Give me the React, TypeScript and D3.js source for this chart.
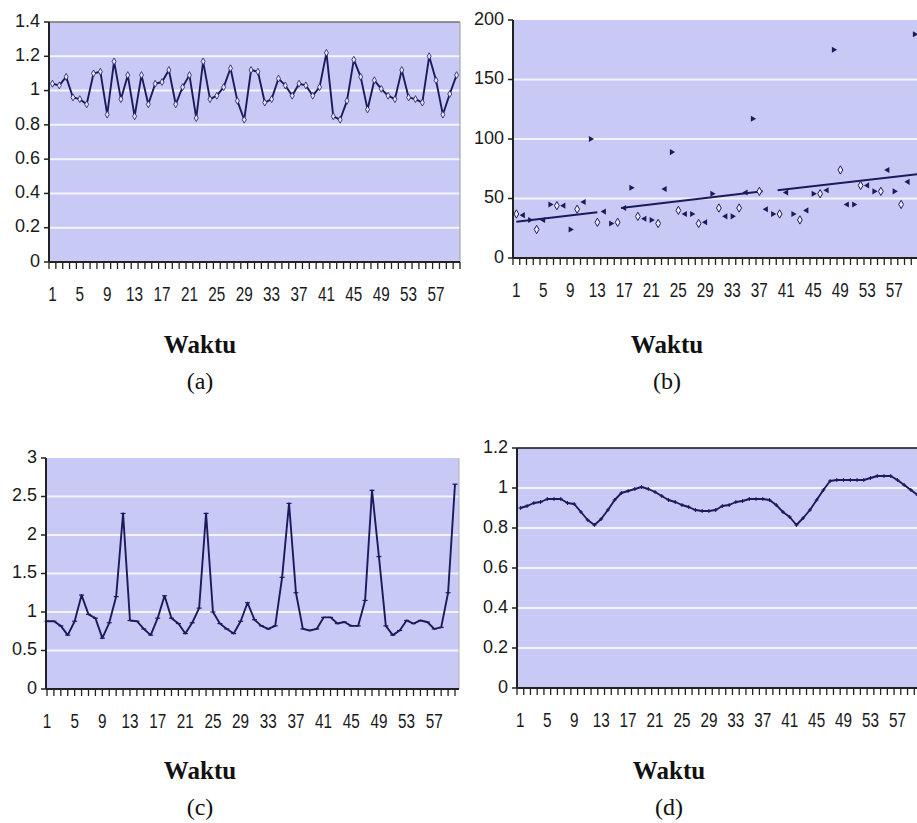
import React from 'react';
import * as d3 from 'd3';

// category labels shown under every panel (every 4th of 60 periods)
const xLabels = [1, 5, 9, 13, 17, 21, 25, 29, 33, 37, 41, 45, 49, 53, 57];
const periods = d3.range(1, 61);

// (a)
const seriesA = [
  1.04, 1.03, 1.08, 0.96, 0.95, 0.92, 1.10, 1.11, 0.86, 1.17,
  0.95, 1.09, 0.85, 1.09, 0.92, 1.04, 1.05, 1.12, 0.92, 1.02,
  1.09, 0.84, 1.17, 0.95, 0.97, 1.02, 1.13, 0.94, 0.83, 1.12,
  1.11, 0.93, 0.95, 1.07, 1.03, 0.97, 1.04, 1.03, 0.97, 1.02,
  1.22, 0.85, 0.83, 0.94, 1.18, 1.08, 0.89, 1.06, 1.01, 0.97,
  0.95, 1.12, 0.96, 0.95, 0.93, 1.20, 1.06, 0.86, 0.98, 1.09,
];
const ticksA = [0, 0.2, 0.4, 0.6, 0.8, 1, 1.2, 1.4];

// (b)
const seriesB = [
  37, 36, 32, 24, 32, 45, 44, 44, 24, 41,
  47, 100, 30, 39, 29, 30, 42, 59, 35, 33,
  32, 29, 58, 89, 40, 37, 37, 29, 30, 54,
  42, 35, 35, 42, 55, 117, 56, 41, 37, 37,
  55, 37, 32, 40, 54, 54, 57, 175, 74, 45,
  45, 61, 61, 56, 56, 74, 56, 45, 64, 188,
];
// trend line pieces: [period, value] end points
const trendB = [
  [[1, 30.5], [13, 38.5]],
  [[16.5, 42], [37.5, 56]],
  [[39.7, 57], [60.5, 70.5]],
];
const ticksB = [0, 50, 100, 150, 200];

// (c)
const seriesC = [
  0.88, 0.88, 0.82, 0.70, 0.88, 1.22, 0.97, 0.92, 0.66, 0.86,
  1.20, 2.28, 0.89, 0.88, 0.78, 0.70, 0.92, 1.21, 0.92, 0.85,
  0.72, 0.86, 1.05, 2.28, 1.00, 0.85, 0.78, 0.72, 0.88, 1.12,
  0.90, 0.82, 0.78, 0.82, 1.45, 2.41, 1.25, 0.78, 0.76, 0.78,
  0.93, 0.93, 0.85, 0.87, 0.82, 0.82, 1.15, 2.58, 1.72, 0.82,
  0.70, 0.76, 0.89, 0.85, 0.89, 0.87, 0.78, 0.80, 1.25, 2.66,
];
const ticksC = [0, 0.5, 1, 1.5, 2, 2.5, 3];

// (d)
const seriesD = [
  0.90, 0.91, 0.925, 0.93, 0.945, 0.945, 0.945, 0.925, 0.92, 0.88,
  0.84, 0.815, 0.845, 0.89, 0.94, 0.975, 0.985, 0.995, 1.005, 0.995,
  0.98, 0.96, 0.94, 0.93, 0.915, 0.905, 0.89, 0.885, 0.885, 0.89,
  0.91, 0.915, 0.93, 0.935, 0.945, 0.945, 0.945, 0.94, 0.915, 0.88,
  0.855, 0.815, 0.85, 0.89, 0.94, 0.99, 1.035, 1.04, 1.04, 1.04,
  1.04, 1.04, 1.05, 1.06, 1.06, 1.06, 1.04, 1.015, 0.99, 0.965,
];
const ticksD = [0, 0.2, 0.4, 0.6, 0.8, 1, 1.2];

const BG = '#c9c9f6';
const LINE = '#1b1b5c';
const TXT = '#1a1a1a';

type Frame = {
  left: number; right: number; top: number; bottom: number;
  xDomain: [number, number]; xRange: [number, number];
  tickAt: number[]; yMax: number; ticks: number[];
  topBorder?: string; rightBorder?: string;
};

function Panel({ f, children }: { f: Frame; children: (x: any, y: any) => React.ReactNode }) {
  const x = d3.scaleLinear().domain(f.xDomain).range(f.xRange);
  const y = d3.scaleLinear().domain([0, f.yMax]).range([f.bottom, f.top]);
  return (
    <g>
      <rect x={f.left} y={f.top} width={f.right - f.left} height={f.bottom - f.top} fill={BG} />
      {f.ticks.filter(t => t > 0 && t < f.yMax).map(t => (
        <line key={t} x1={f.left} x2={f.right} y1={y(t)} y2={y(t)} stroke="#f4f4ff" strokeWidth={2} />
      ))}
      {f.topBorder && <line x1={f.left} x2={f.right} y1={f.top} y2={f.top} stroke={f.topBorder} strokeWidth={1.5} />}
      {f.rightBorder && <line x1={f.right} x2={f.right} y1={f.top} y2={f.bottom} stroke={f.rightBorder} strokeWidth={1} />}
      {children(x, y)}
      {/* y axis */}
      <line x1={f.left} x2={f.left} y1={f.top} y2={f.bottom} stroke="#222" strokeWidth={2} />
      {f.ticks.map(t => (
        <g key={t}>
          <line x1={f.left - 5} x2={f.left} y1={y(t)} y2={y(t)} stroke="#222" strokeWidth={1.5} />
          <text x={f.left - 9} y={y(t)} textAnchor="end" dominantBaseline="middle"
            fontFamily="Liberation Sans, Arial, sans-serif" fontSize={18} fill={TXT}>{t}</text>
        </g>
      ))}
      {/* x axis */}
      <line x1={f.left} x2={f.right} y1={f.bottom} y2={f.bottom} stroke="#222" strokeWidth={2} />
      {f.tickAt.map(t => (
        <line key={t} x1={x(t)} x2={x(t)} y1={f.bottom} y2={f.bottom + 7} stroke="#222" strokeWidth={1.3} />
      ))}
      {xLabels.map(l => (
        <text key={l} transform={`translate(${x(l)},${f.bottom + 34}) scale(0.85,1.1)`}
          textAnchor="middle" dominantBaseline="middle"
          fontFamily="Liberation Sans, Arial, sans-serif" fontSize={18} fill={TXT}>{l}</text>
      ))}
    </g>
  );
}

function Caption({ cx, y, tag }: { cx: number; y: number; tag: string }) {
  return (
    <g fontFamily="Liberation Serif, Times New Roman, serif" fill="#111" textAnchor="middle">
      <text x={cx} y={y} fontSize={25} fontWeight="bold">Waktu</text>
      <text x={cx} y={y + 36} fontSize={24}>({tag})</text>
    </g>
  );
}

const bandTicks = d3.range(0, 61).map(i => i + 0.5);

const frameA: Frame = {
  left: 49, right: 460, top: 22, bottom: 262,
  xDomain: [0.5, 60.5], xRange: [49, 460], tickAt: bandTicks,
  yMax: 1.4, ticks: ticksA, topBorder: '#707070', rightBorder: '#9a9a9a',
};
const frameB: Frame = {
  left: 513, right: 918, top: 20, bottom: 258,
  xDomain: [0.5, 60.5], xRange: [513, 918], tickAt: bandTicks,
  yMax: 200, ticks: ticksB,
};
const frameC: Frame = {
  left: 46, right: 459, top: 458, bottom: 689,
  xDomain: [1, 60], xRange: [47, 455], tickAt: periods,
  yMax: 3, ticks: ticksC, rightBorder: '#b0b0c0',
};
const frameD: Frame = {
  left: 517, right: 921, top: 448, bottom: 688,
  xDomain: [0.5, 60.5], xRange: [517, 921], tickAt: bandTicks,
  yMax: 1.2, ticks: ticksD, topBorder: '#111',
};

function LineSeries({ data, x, y, marker }: { data: number[]; x: any; y: any; marker: 'x' | 'dash' | 'plus' }) {
  const line = d3.line<number>().x((_, i) => x(i + 1)).y(d => y(d));
  return (
    <g>
      <path d={line(data) || ''} fill="none" stroke={LINE} strokeWidth={1.9} strokeLinejoin="round" />
      {data.map((d, i) => {
        const px = x(i + 1), py = y(d);
        if (marker === 'dash') return <line key={i} x1={px - 2.5} x2={px + 2.5} y1={py} y2={py} stroke={LINE} strokeWidth={1.2} />;
        if (marker === 'plus') return (
          <path key={i} d={`M${px - 2},${py}H${px + 2}M${px},${py - 2}V${py + 2}`} stroke={LINE} strokeWidth={1} />
        );
        return <path key={i} d={d3.symbol().type(d3.symbolDiamond).size(14)() || ''}
          transform={`translate(${px},${py})`} fill="#e6e6ff" stroke={LINE} strokeWidth={0.8} />;
      })}
    </g>
  );
}

function ScatterSeries({ data, x, y }: { data: number[]; x: any; y: any }) {
  const diamond = d3.symbol().type(d3.symbolDiamond).size(20)() || '';
  const tri = d3.symbol().type(d3.symbolTriangle).size(16)() || '';
  const line = d3.line<number[]>().x(d => x(d[0])).y(d => y(d[1]));
  return (
    <g>
      {trendB.map((seg, k) => (
        <path key={k} d={line(seg) || ''} stroke={LINE} strokeWidth={2} fill="none" />
      ))}
      {data.map((d, i) => {
        const px = x(i + 1), py = y(d);
        const kind = i % 3;
        if (kind === 0) return <path key={i} d={diamond} transform={`translate(${px},${py})`}
          fill="#eeeeff" stroke={LINE} strokeWidth={1} />;
        return <path key={i} d={tri} transform={`translate(${px},${py}) rotate(${kind === 1 ? -90 : 90})`} fill={LINE} />;
      })}
    </g>
  );
}

export default function App() {
  return (
    <div style={{ position: 'absolute', left: 0, top: 0 }}>
      <svg width={917} height={823} style={{ display: 'block', background: '#fff' }}>
        <Panel f={frameA}>{(x, y) => <LineSeries data={seriesA} x={x} y={y} marker="x" />}</Panel>
        <Panel f={frameB}>{(x, y) => <ScatterSeries data={seriesB} x={x} y={y} />}</Panel>
        <Panel f={frameC}>{(x, y) => <LineSeries data={seriesC} x={x} y={y} marker="dash" />}</Panel>
        <Panel f={frameD}>{(x, y) => <LineSeries data={seriesD} x={x} y={y} marker="plus" />}</Panel>
        <Caption cx={200} y={353} tag="a" />
        <Caption cx={667} y={353} tag="b" />
        <Caption cx={200} y={779} tag="c" />
        <Caption cx={669} y={779} tag="d" />
      </svg>
    </div>
  );
}
